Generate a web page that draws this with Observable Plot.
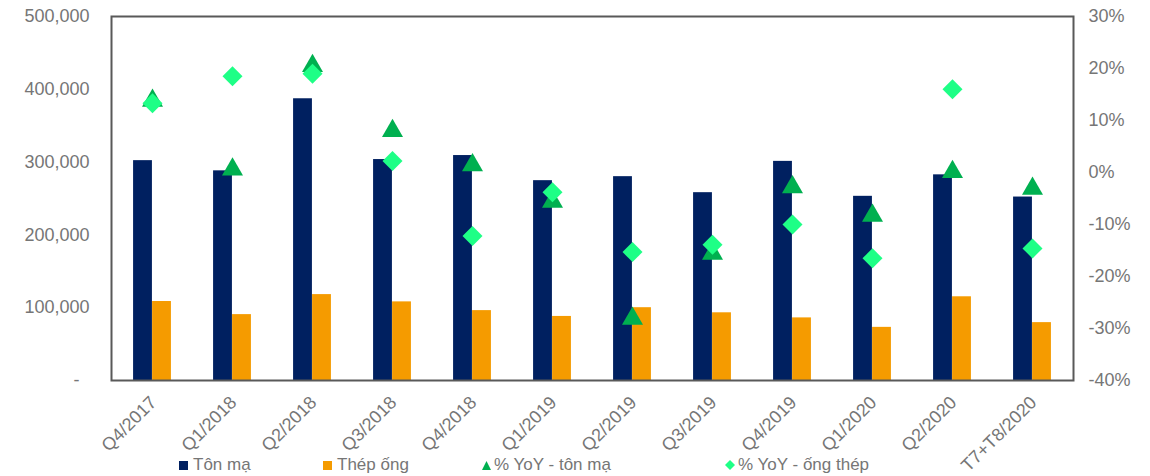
<!DOCTYPE html>
<html><head><meta charset="utf-8">
<script src="https://cdn.jsdelivr.net/npm/d3@7"></script>
<script src="https://cdn.jsdelivr.net/npm/@observablehq/plot@0.6"></script>
<style>
body{margin:0;background:#fff;font-family:"Liberation Sans",Arial,sans-serif}
#wrap{position:relative;width:1150px;height:476px}
#legend{position:absolute;left:0;top:455px;width:1150px;height:21px;font-size:17px;color:#767676}
#legend .it{position:absolute;top:0;display:flex;align-items:center;white-space:nowrap}
#legend .sw{display:inline-block;margin-right:5px}
</style>
</head><body>
<div id="wrap">
<div id="chart"></div>
<div id="legend"></div>
</div>
<script>
const categories = ["Q4/2017","Q1/2018","Q2/2018","Q3/2018","Q4/2018","Q1/2019","Q2/2019","Q3/2019","Q4/2019","Q1/2020","Q2/2020","T7+T8/2020"];
const tonMa   = [302000,288000,387000,303500,309000,274500,280000,258000,301000,253000,282500,252000];
const thepOng = [108500,90500,118000,108000,96000,88000,100000,93000,86000,73000,115000,79500];
const yoyTonMa   = [13.8,0.6,20.5,8.0,1.4,-5.6,-28.1,-15.6,-2.8,-8.3,0.1,-3.1];
const yoyThepOng = [13.3,18.5,19.0,2.2,-12.2,-3.8,-15.3,-13.9,-10.0,-16.5,16.0,-14.6];
const leftTicks  = [0,100000,200000,300000,400000,500000];
const rightTicks = [30,20,10,0,-10,-20,-30,-40];
const seriesNames = ["Tôn mạ","Thép ống","% YoY - tôn mạ","% YoY - ống thép"];
const colors = ["#002060","#F59B00","#00B050","#1EFF86"];

const W = 1150, H = 476, mL = 111, mR = 77, mT = 16, mB = 96;
const yMax = 500000, pMin = -40, pMax = 30;
const pToY = p => (p - pMin) / (pMax - pMin) * yMax;
const yToP = v => v / yMax * (pMax - pMin) + pMin;
const rows = categories.map((c, i) => ({c, ton: tonMa[i], thep: thepOng[i], pt: yoyTonMa[i], po: yoyThepOng[i]}));
const bw = (W - mL - mR) / categories.length;
const barW = 19;

const chart = Plot.plot({
  width: W, height: H, marginLeft: mL, marginRight: mR, marginTop: mT, marginBottom: mB,
  style: {fontFamily: '"Liberation Sans",Arial,sans-serif', fontSize: "18px", color: "#767676", background: "#fff"},
  x: {domain: categories, padding: 0, label: null},
  y: {domain: [0, yMax], label: null},
  marks: [
    Plot.barY(rows, {x: "c", y: "ton", fill: colors[0], insetLeft: bw / 2 - barW, insetRight: bw / 2}),
    Plot.barY(rows, {x: "c", y: "thep", fill: colors[1], insetLeft: bw / 2, insetRight: bw / 2 - barW}),
    Plot.axisY({ticks: leftTicks, tickSize: 0, tickPadding: 22, label: null,
      tickFormat: d => d === 0 ? "-\u00a0\u00a0" : d3.format(",")(d)}),
    Plot.axisY({anchor: "right", ticks: rightTicks.map(pToY), tickSize: 0, tickPadding: 15, label: null,
      tickFormat: v => Math.round(yToP(v)) + "%"}),
    Plot.axisX({tickRotate: -45, tickSize: 0, tickPadding: 19, dx: 1, label: null}),
    Plot.dot(rows, {x: "c", y: d => pToY(d.pt), symbol: "triangle", r: 7.8, fill: colors[2]}),
    Plot.dot(rows, {x: "c", y: d => pToY(d.po), symbol: "diamond2", r: 9, fill: colors[3]}),
    Plot.frame({stroke: "#595959", strokeWidth: 2})
  ]
});
document.getElementById("chart").appendChild(chart);

const legend = document.getElementById("legend");
const lefts = [179, 323, 482, 725];
const swatches = [
  `<svg class="sw" width="9" height="9"><rect width="9" height="9" fill="${colors[0]}"/></svg>`,
  `<svg class="sw" width="9" height="9"><rect width="9" height="9" fill="${colors[1]}"/></svg>`,
  `<svg class="sw" width="9" height="9" style="margin-right:3px"><path d="M4.5,0L9,9H0Z" fill="${colors[2]}"/></svg>`,
  `<svg class="sw" width="10" height="10" style="margin-right:3px"><path d="M5,0L10,5L5,10L0,5Z" fill="${colors[3]}"/></svg>`
];
seriesNames.forEach((n, i) => {
  const d = document.createElement("div");
  d.className = "it";
  d.style.left = lefts[i] + "px";
  d.innerHTML = swatches[i] + `<span>${n}</span>`;
  legend.appendChild(d);
});
</script>
</body></html>
